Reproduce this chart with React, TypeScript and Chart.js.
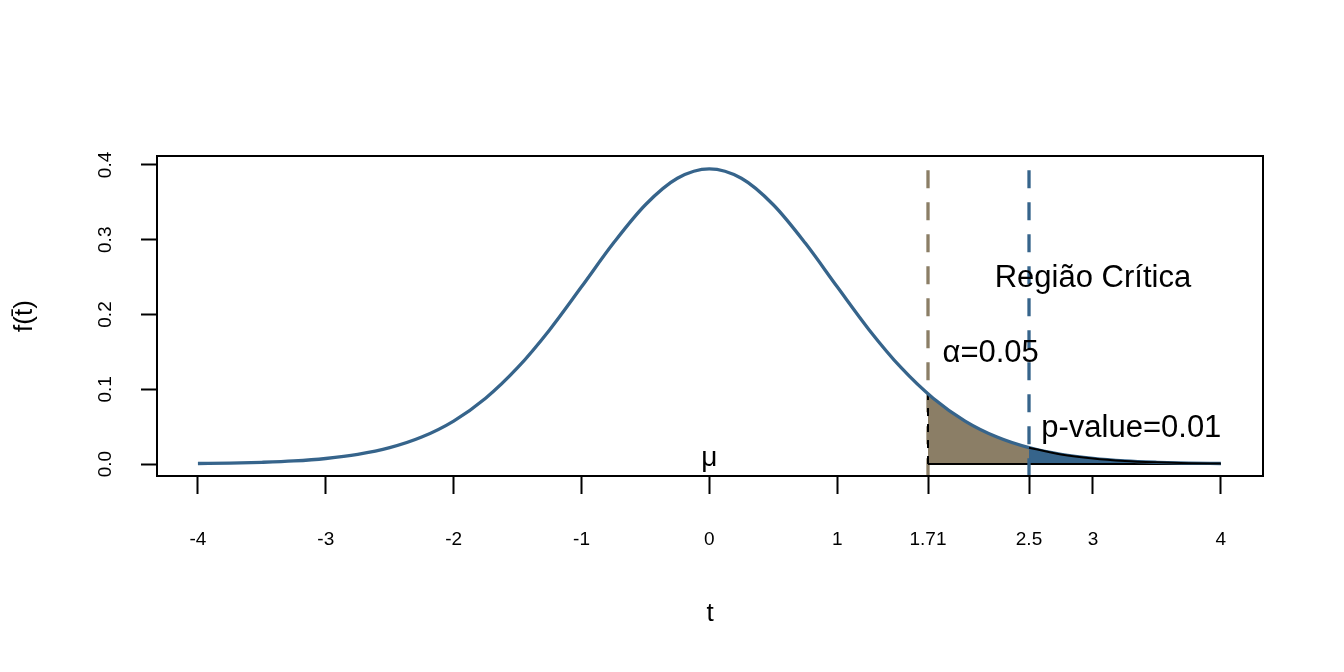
import React, { useEffect, useRef } from "react";
import { Chart, registerables } from "chart.js";

Chart.register(...registerables);

// ---- data ----
const tValues = [-4, -3.75, -3.5, -3.25, -3, -2.75, -2.5, -2.25, -2, -1.75, -1.5, -1.25, -1, -0.75, -0.5, -0.25, 0,
  0.25, 0.5, 0.75, 1, 1.25, 1.5, 1.75, 2, 2.25, 2.5, 2.75, 3, 3.25, 3.5, 3.75, 4];
const densityValues = [0.0007, 0.0012, 0.0023, 0.0041, 0.0074, 0.0129, 0.0219, 0.0361, 0.0575, 0.088, 0.1288, 0.1794,
  0.237, 0.2955, 0.3468, 0.3822, 0.3948, 0.3822, 0.3468, 0.2955, 0.237, 0.1794, 0.1288, 0.088, 0.0575, 0.0361, 0.0219,
  0.0129, 0.0074, 0.0041, 0.0023, 0.0012, 0.0007];
const criticalT = 1.71;
const criticalDensity = 0.0938;
const observedT = 2.5;
const observedDensity = 0.0219;
const refLineTop = 0.393;

const xTickValues = [-4, -3, -2, -1, 0, 1, 1.71, 2.5, 3, 4];
const xTickLabels = ["-4", "-3", "-2", "-1", "0", "1", "1.71", "2.5", "3", "4"];
const yTickValues = [0, 0.1, 0.2, 0.3, 0.4];
const yTickLabels = ["0.0", "0.1", "0.2", "0.3", "0.4"];

const annotationLabels = ["Região Crítica", "α=0.05", "p-value=0.01", "μ"];
const annotationX = [3.0, 2.2, 3.3, 0];
const annotationY = [0.25, 0.15, 0.05, 0.01];
const annotationSizes = [31, 31, 31, 28];

const xMin = -4.32;
const xMax = 4.33;
const yMin = -0.016;
const yMax = 0.412;

const STEEL = "#36648B";
const WHEAT = "#8B7E66";
const FONT = "'Liberation Sans', Arial, sans-serif";
const TICK_SIZE = 19;
const TITLE_SIZE = 26;

export default function App() {
  const canvasRef = useRef<HTMLCanvasElement | null>(null);

  useEffect(() => {
    const canvas = canvasRef.current;
    if (!canvas) return;
    Chart.defaults.font.family = FONT;
    Chart.defaults.color = "#000";

    const curve = tValues.map((x, i) => ({ x, y: densityValues[i] }));
    const alphaRegion = [{ x: criticalT, y: criticalDensity }].concat(curve.filter((p) => p.x > criticalT));
    const pRegion = [{ x: observedT, y: observedDensity }].concat(curve.filter((p) => p.x > observedT));
    const lastT = tValues[tValues.length - 1];

    const framePlugin = {
      id: "frameAndText",
      afterDatasetsDraw(chart: any) {
        const ctx = chart.ctx;
        const xs = chart.scales.x;
        const ys = chart.scales.y;
        ctx.save();
        ctx.fillStyle = "#000";
        ctx.textAlign = "center";
        ctx.textBaseline = "alphabetic";
        annotationLabels.forEach((label, i) => {
          const size = annotationSizes[i];
          ctx.font = `${size}px ${FONT}`;
          const px = xs.getPixelForValue(annotationX[i]);
          const py = ys.getPixelForValue(annotationY[i]);
          ctx.fillText(label, px, py + size * 0.33);
        });
        ctx.restore();
      },
      afterDraw(chart: any) {
        const { left, right, top, bottom } = chart.chartArea;
        const ctx = chart.ctx;
        ctx.save();
        ctx.strokeStyle = "#000";
        ctx.lineWidth = 2;
        ctx.strokeRect(left, top, right - left, bottom - top);
        ctx.restore();
      },
    };

    const chart = new Chart(canvas, {
      type: "line",
      data: {
        datasets: [
          {
            label: "alpha",
            data: alphaRegion,
            fill: "origin",
            backgroundColor: WHEAT,
            borderWidth: 0,
            borderColor: "rgba(0,0,0,0)",
            pointRadius: 0,
            cubicInterpolationMode: "monotone",
            order: 10,
          },
          {
            label: "pfill",
            data: pRegion,
            fill: "origin",
            backgroundColor: STEEL,
            borderWidth: 0,
            borderColor: "rgba(0,0,0,0)",
            pointRadius: 0,
            cubicInterpolationMode: "monotone",
            order: 9,
          },
          {
            label: "critLine",
            data: [{ x: criticalT, y: refLineTop }, { x: criticalT, y: yMin }],
            borderColor: WHEAT,
            borderWidth: 3.3,
            borderDash: [18, 14],
            borderCapStyle: "butt",
            pointRadius: 0,
            fill: false,
            order: 8,
          },
          {
            label: "critEdge",
            data: [{ x: criticalT, y: 0 }, { x: criticalT, y: criticalDensity }],
            borderColor: "#000",
            borderWidth: 2,
            borderDash: [8, 8],
            pointRadius: 0,
            fill: false,
            order: 7,
          },
          {
            label: "baseline",
            data: [{ x: criticalT, y: 0 }, { x: lastT, y: 0 }],
            borderColor: "#000",
            borderWidth: 2,
            pointRadius: 0,
            fill: false,
            order: 6,
          },
          {
            label: "density",
            data: curve,
            borderColor: STEEL,
            borderWidth: 3.3,
            pointRadius: 0,
            cubicInterpolationMode: "monotone",
            fill: false,
            order: 5,
          },
          {
            label: "pEdge",
            data: pRegion,
            borderColor: "#000",
            borderWidth: 2,
            pointRadius: 0,
            cubicInterpolationMode: "monotone",
            fill: false,
            order: 4,
          },
          {
            label: "obsLine",
            data: [{ x: observedT, y: refLineTop }, { x: observedT, y: yMin }],
            borderColor: STEEL,
            borderWidth: 3.3,
            borderDash: [18, 14],
            borderCapStyle: "butt",
            pointRadius: 0,
            fill: false,
            order: 3,
          },
        ],
      },
      options: {
        responsive: false,
        animation: false,
        devicePixelRatio: 1,
        layout: { padding: { top: 156, right: 81, bottom: 0, left: 0 } },
        plugins: {
          legend: { display: false },
          tooltip: { enabled: false },
        },
        scales: {
          x: {
            type: "linear",
            min: xMin,
            max: xMax,
            afterBuildTicks: (scale: any) => {
              scale.ticks = xTickValues.map((v) => ({ value: v }));
            },
            afterFit: (scale: any) => {
              scale.height = 196;
            },
            ticks: {
              autoSkip: false,
              maxRotation: 0,
              minRotation: 0,
              padding: 34,
              color: "#000",
              font: { size: TICK_SIZE, family: FONT },
              callback: (_v: any, i: number) => xTickLabels[i],
            },
            grid: {
              display: true,
              drawOnChartArea: false,
              drawTicks: true,
              tickLength: 18,
              tickWidth: 2,
              tickColor: "#000",
              color: "#000",
            },
            border: { display: true, color: "#000", width: 2 },
            title: {
              display: true,
              text: "t",
              color: "#000",
              font: { size: TITLE_SIZE, family: FONT },
              padding: { top: 0, bottom: 58 - TITLE_SIZE * 0.6 },
            },
          },
          y: {
            type: "linear",
            min: yMin,
            max: yMax,
            afterBuildTicks: (scale: any) => {
              scale.ticks = yTickValues.map((v) => ({ value: v }));
            },
            afterFit: (scale: any) => {
              scale.width = 157;
            },
            ticks: {
              autoSkip: false,
              minRotation: 90,
              maxRotation: 90,
              crossAlign: "center",
              padding: 22,
              color: "#000",
              font: { size: TICK_SIZE, family: FONT },
              callback: (_v: any, i: number) => yTickLabels[i],
            },
            grid: {
              display: true,
              drawOnChartArea: false,
              drawTicks: true,
              tickLength: 16,
              tickWidth: 2,
              tickColor: "#000",
              color: "#000",
            },
            border: { display: true, color: "#000", width: 2 },
            title: {
              display: true,
              text: "f(t\u0304)",
              color: "#000",
              font: { size: TITLE_SIZE, family: FONT },
              padding: { top: 25 - TITLE_SIZE * 0.6, bottom: 0 },
            },
          },
        },
      },
      plugins: [framePlugin],
    } as any);

    return () => {
      chart.destroy();
    };
  }, []);

  return (
    <div style={{ position: "absolute", left: 0, top: 0, width: 1344, height: 672, background: "#fff" }}>
      <canvas ref={canvasRef} width={1344} height={672} style={{ width: 1344, height: 672, display: "block" }} />
    </div>
  );
}
